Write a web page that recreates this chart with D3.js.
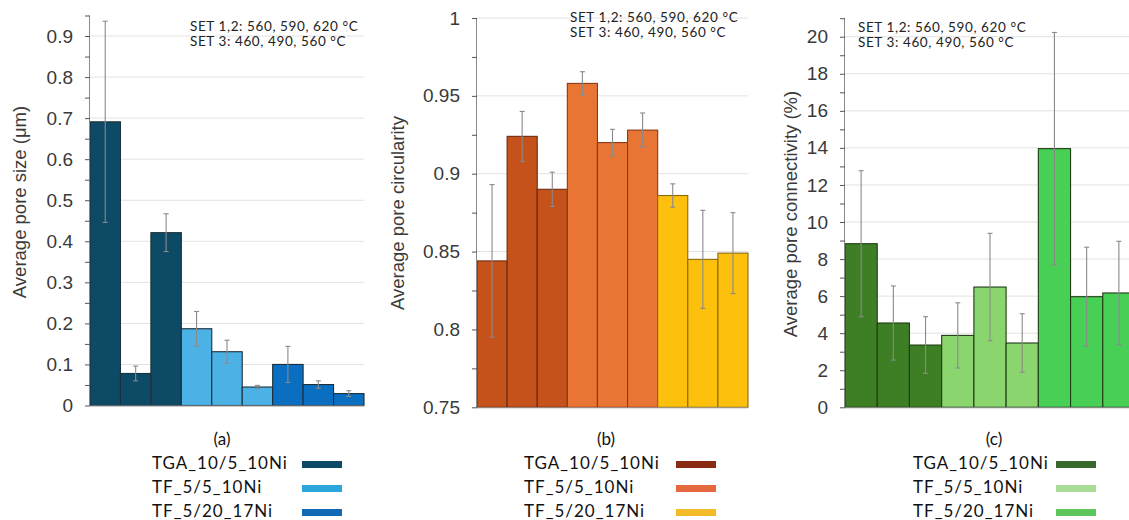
<!DOCTYPE html>
<html>
<head>
<meta charset="utf-8">
<script src="https://cdn.jsdelivr.net/npm/d3@7"></script>
<style>
  html, body { margin: 0; padding: 0; background: #fff; }
  svg { display: block; }
</style>
</head>
<body>
<svg id="chart" width="1129" height="520"></svg>
<script>
// ---------- data ----------
const samples = ["TGA_10/5_10Ni", "TF_5/5_10Ni", "TF_5/20_17Ni"];
const barIndex = [0, 1, 2, 3, 4, 5, 6, 7, 8];           // 3 temperatures per sample
const barSample = [0, 0, 0, 1, 1, 1, 2, 2, 2];

const sizeValues = [0.691, 0.078, 0.421, 0.187, 0.131, 0.045, 0.100, 0.051, 0.029];
const sizeErrors = [0.245, 0.018, 0.046, 0.042, 0.028, 0.004, 0.044, 0.009, 0.007];

const circValues = [0.844, 0.924, 0.890, 0.958, 0.920, 0.928, 0.886, 0.845, 0.849];
const circErrors = [0.049, 0.016, 0.011, 0.0075, 0.0085, 0.011, 0.0075, 0.0315, 0.026];

const connValues = [8.83, 4.55, 3.36, 3.88, 6.49, 3.47, 13.96, 5.97, 6.17];
const connErrors = [3.94, 2.0, 1.53, 1.76, 2.9, 1.58, 6.27, 2.67, 2.79];

const sizeTicks = [0, 0.1, 0.2, 0.3, 0.4, 0.5, 0.6, 0.7, 0.8, 0.9];
const sizeMinor = [0.05, 0.15, 0.25, 0.35, 0.45, 0.55, 0.65, 0.75, 0.85, 0.95];
const circTicks = [0.75, 0.8, 0.85, 0.9, 0.95, 1];
const circMinor = [0.775, 0.825, 0.875, 0.925, 0.975];
const connTicks = [0, 2, 4, 6, 8, 10, 12, 14, 16, 18, 20];
const connMinor = [1, 3, 5, 7, 9, 11, 13, 15, 17, 19, 21];

const annotationLines = ["SET 1,2: 560, 590, 620 \u00B0C", "SET 3: 460, 490, 560 \u00B0C"];
const panelLabels = ["(a)", "(b)", "(c)"];
const axisTitles = ["Average pore size (\u03BCm)", "Average pore circularity", "Average pore connectivity (%)"];

// ---------- panel styling / layout ----------
const panels = [
  { values: sizeValues, errors: sizeErrors, ticks: sizeTicks, minor: sizeMinor, domain: [0, 0.95],
    x0: 90, x1: 364, yBottom: 405.5, yTop: 15.5,
    fills: ["#0c4a66", "#4cb2e5", "#0b6fc1"], stroke: "#1d2f3a",
    legendFills: ["#0c4a66", "#2aa6dc", "#1168b4"],
    titleX: 26, titleY: 202, annX: 190, annY: 31,
    labelX: 222, legendTextX: 152, swatchX: 302 },
  { values: circValues, errors: circErrors, ticks: circTicks, minor: circMinor, domain: [0.75, 1],
    x0: 477, x1: 748, yBottom: 407.3, yTop: 18,
    fills: ["#c4521a", "#e97535", "#fdc00c"], stroke: "#6e2a10",
    strokes: ["#6e2a10", "#8a3a14", "#8a6a10"],
    legendFills: ["#8a2a12", "#e4693e", "#f5ba2a"],
    titleX: 404, titleY: 213, annX: 570, annY: 22,
    labelX: 606, legendTextX: 524, swatchX: 676 },
  { values: connValues, errors: connErrors, ticks: connTicks, minor: connMinor, domain: [0, 21],
    x0: 845, x1: 1135, yBottom: 407.3, yTop: 18.2,
    fills: ["#3e7f25", "#8bd56f", "#48cf56"], stroke: "#1f3d14",
    legendFills: ["#38692a", "#a9dc96", "#5cc65a"],
    titleX: 797, titleY: 214, annX: 858, annY: 31.5,
    labelX: 994, legendTextX: 913, swatchX: 1056 }
];

const svg = d3.select("#chart");
const fmt = v => String(+v.toFixed(3));

panels.forEach((p, pi) => {
  const g = svg.append("g");
  const x = d3.scaleBand().domain(barIndex).range([p.x0, p.x1]).padding(0);
  const y = d3.scaleLinear().domain(p.domain).range([p.yBottom, p.yTop]);

  // gridlines
  g.append("g").selectAll("line").data(p.ticks.filter(t => t !== p.domain[0])).join("line")
    .attr("x1", p.x0).attr("x2", Math.min(p.x1, 1129))
    .attr("y1", d => y(d)).attr("y2", d => y(d))
    .attr("stroke", "#e2e2e2").attr("stroke-width", 1);

  // bars
  g.append("g").selectAll("rect").data(barIndex).join("rect")
    .attr("x", i => x(i)).attr("width", x.bandwidth())
    .attr("y", i => y(p.values[i]))
    .attr("height", i => y(p.domain[0]) - y(p.values[i]))
    .attr("fill", i => p.fills[barSample[i]])
    .attr("stroke", i => p.strokes ? p.strokes[barSample[i]] : p.stroke)
    .attr("stroke-width", 1.1);

  // error bars
  const eb = g.append("g").attr("stroke", "#8a8a8a").attr("stroke-width", 1.1);
  barIndex.forEach(i => {
    const cx = x(i) + x.bandwidth() / 2;
    const hi = y(p.values[i] + p.errors[i]);
    const lo = y(Math.max(p.domain[0], p.values[i] - p.errors[i]));
    eb.append("line").attr("x1", cx).attr("x2", cx).attr("y1", hi).attr("y2", lo);
    eb.append("line").attr("x1", cx - 2.5).attr("x2", cx + 2.5).attr("y1", hi).attr("y2", hi);
    eb.append("line").attr("x1", cx - 2.5).attr("x2", cx + 2.5).attr("y1", lo).attr("y2", lo);
  });

  // baseline
  g.append("line").attr("x1", p.x0).attr("x2", Math.min(p.x1, 1129))
    .attr("y1", y(p.domain[0]) + 0.5).attr("y2", y(p.domain[0]) + 0.5)
    .attr("stroke", "#a0a0a0").attr("stroke-width", 1);

  // y axis: major
  const ax = g.append("g").attr("transform", `translate(${p.x0},0)`)
    .call(d3.axisLeft(y).tickValues(p.ticks).tickFormat(fmt).tickSize(5).tickPadding(12));
  ax.select(".domain").attr("stroke", "#8a8a8a").attr("d", `M-0.5,${p.yBottom}V${p.yTop}`);
  ax.selectAll(".tick line").attr("stroke", "#555");
  ax.selectAll(".tick text").attr("font-family", "Liberation Sans, Arial, sans-serif")
    .attr("font-size", 19).attr("fill", "#3a3a3a");
  // minor ticks
  const mx = g.append("g").attr("transform", `translate(${p.x0},0)`)
    .call(d3.axisLeft(y).tickValues(p.minor).tickFormat("").tickSize(5));
  mx.select(".domain").remove();
  mx.selectAll(".tick line").attr("stroke", "#555");

  // axis title
  g.append("text")
    .attr("transform", `translate(${p.titleX},${p.titleY}) rotate(-90)`)
    .attr("text-anchor", "middle")
    .attr("font-family", "Liberation Sans, Arial, sans-serif")
    .attr("font-size", 18.5).attr("fill", "#3a3a3a")
    .text(axisTitles[pi]);

  // annotation
  const ann = g.append("text").attr("font-family", "Lato, sans-serif")
    .attr("font-size", 13.5).attr("letter-spacing", 0.6).attr("fill", "#222");
  annotationLines.forEach((t, k) => {
    ann.append("tspan").attr("x", p.annX).attr("y", p.annY + k * 15).text(t);
  });

  // panel label
  g.append("text").attr("x", p.labelX).attr("y", 445).attr("text-anchor", "middle")
    .attr("font-family", "Lato, sans-serif").attr("font-size", 17).attr("fill", "#111")
    .text(panelLabels[pi]);

  // legend
  samples.forEach((s, k) => {
    const by = 469 + k * 24;
    g.append("text").attr("x", p.legendTextX).attr("y", by)
      .attr("font-family", "Lato, sans-serif").attr("font-size", 17).attr("letter-spacing", 1)
      .attr("fill", "#111")
      .text(s);
    g.append("rect").attr("x", p.swatchX).attr("y", by - 8).attr("width", 40).attr("height", 7)
      .attr("fill", p.legendFills[k]);
  });
});
</script>
</body>
</html>
